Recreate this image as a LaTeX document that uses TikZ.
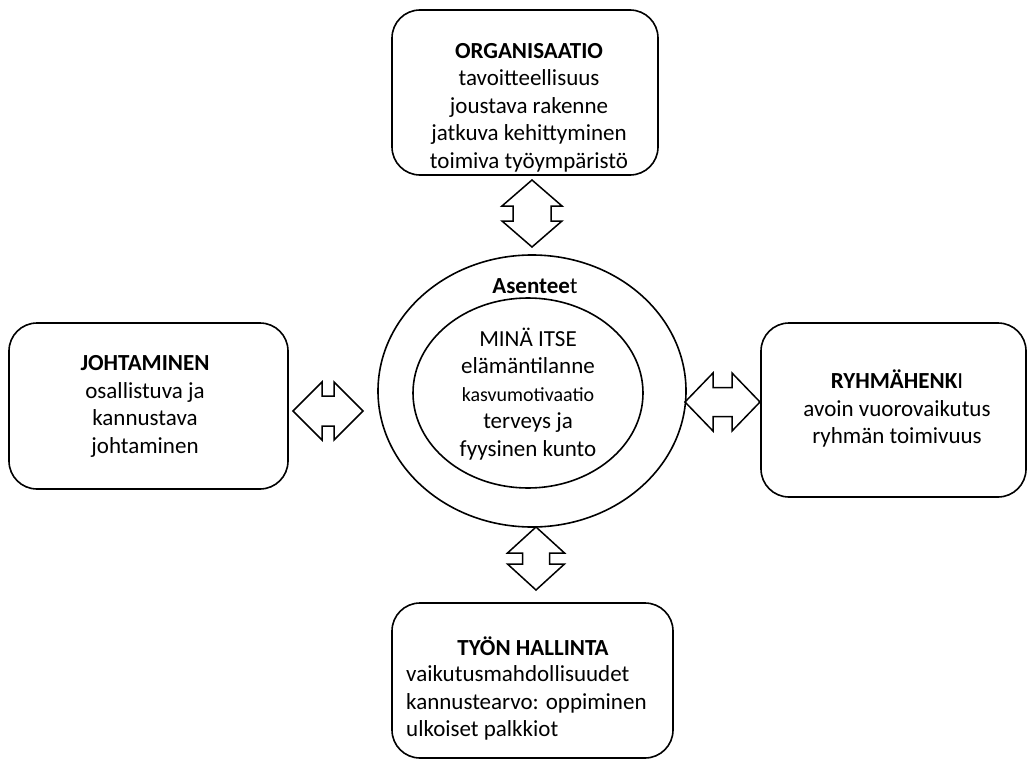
\documentclass[tikz,border=0pt]{standalone}
\usepackage{fontspec}
\setmainfont{Carlito}
\usetikzlibrary{calc,shapes.geometric}

% vertical two-way block arrow between tips #1 (top) and #2 (bottom)
% #3 head half-width, #4 stem half-width, #5 head length
\newcommand{\vtwoway}[5]{%
  \draw[blockarrow] (#1) -- ++(#3,#5) -- ++(#4-#3,0) -- ($(#2)+(#4,-#5)$) -- ++(#3-#4,0)
    -- (#2) -- ++(-#3,-#5) -- ++(#3-#4,0) -- ($(#1)+(-#4,#5)$) -- ++(#4-#3,0) -- cycle;}
% horizontal two-way block arrow between tips #1 (left) and #2 (right)
\newcommand{\htwoway}[5]{%
  \draw[blockarrow] (#1) -- ++(#5,-#3) -- ++(0,#3-#4) -- ($(#2)+(-#5,-#4)$) -- ++(0,#4-#3)
    -- (#2) -- ++(-#5,#3) -- ++(0,#4-#3) -- ($(#1)+(#5,#4)$) -- ++(0,#3-#4) -- cycle;}

\begin{document}
\begin{tikzpicture}[x=1pt,y=-1pt,
  box/.style={draw=black, line width=1.6pt, rounded corners=28pt, rectangle},
  ring/.style={draw=black, line width=1.6pt, ellipse},
  blockarrow/.style={draw=black, line width=1.5pt, fill=white, line join=miter},
  txt/.style={inner sep=0pt, align=center, font=\fontsize{23}{27.5}\selectfont},
  txtl/.style={inner sep=0pt, align=left, font=\fontsize{23}{27.5}\selectfont}]
\useasboundingbox (0,0) rectangle (1028,760);

% boxes
\node[box, minimum width=266pt, minimum height=165pt] (org) at (525,92.5) {};
\node[box, minimum width=279pt, minimum height=166pt] (joh) at (148.5,406) {};
\node[box, minimum width=265pt, minimum height=174pt] (ryh) at (893.5,410) {};
\node[box, minimum width=281pt, minimum height=155pt] (tyo) at (532.5,680.5) {};

% centre rings
\node[ring, minimum width=308pt, minimum height=272pt] (asen) at (532,391) {};
\node[ring, minimum width=230pt, minimum height=190pt] (mina) at (528,393) {};

% texts
\node[txt] (orgtxt) at (529,107.5) {\textbf{ORGANISAATIO}\\tavoitteellisuus\\joustava rakenne\\jatkuva kehittyminen\\toimiva työympäristö};
\node[txt] (johtxt) at (145,406.5) {\textbf{JOHTAMINEN}\\osallistuva ja\\kannustava\\johtaminen};
\node[txt] (ryhtxt) at (897,408.5) {\textbf{RYHMÄHENK}I\\avoin vuorovaikutus\\ryhmän toimivuus};
\node[txt] (tyotitle) at (533,646.5) {\textbf{TYÖN HALLINTA}};
\node[txtl, anchor=west] (tyotxt) at (406,703) {vaikutusmahdollisuudet\\kannustearvo: oppiminen\\ulkoiset palkkiot};
\node[txt] (asentxt) at (535,286) {\textbf{Asentee}t};
\node[txt] (minatxt) at (528,394) {MINÄ ITSE\\elämäntilanne\\{\fontsize{20}{27.5}\selectfont kasvumotivaatio}\\terveys ja\\fyysinen kunto};

% arrow tips
\coordinate (t1) at (532,180);
\coordinate (t2) at (532,247);
\coordinate (b1) at (536,527);
\coordinate (b2) at (536,590);
\coordinate (l1) at (293,411);
\coordinate (l2) at (363,411);
\coordinate (r1) at (685,402);
\coordinate (r2) at (760,402);

\vtwoway{t1}{t2}{30}{19}{26}
\vtwoway{b1}{b2}{28.5}{13.5}{26}
\htwoway{l1}{l2}{29}{15}{29}
\htwoway{r1}{r2}{29}{14.5}{28}
\end{tikzpicture}
\end{document}
